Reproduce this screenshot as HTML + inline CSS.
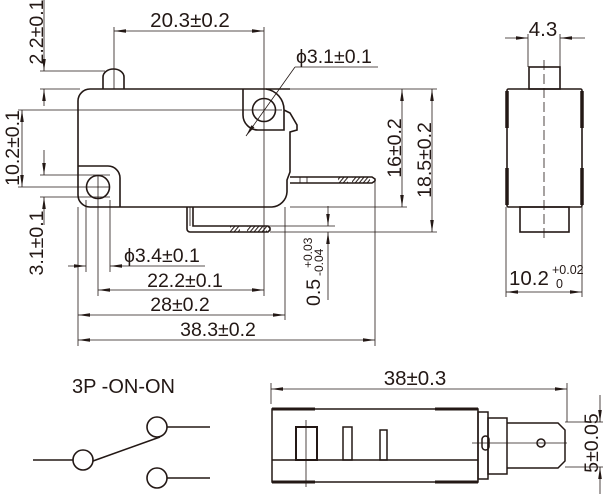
<!DOCTYPE html>
<html><head><meta charset="utf-8"><style>
html,body{margin:0;padding:0;background:#fff;width:603px;height:494px;overflow:hidden}
svg{display:block}
text{font-family:"Liberation Sans",Arial,sans-serif;fill:#231815}
</style></head><body>
<svg width="603" height="494" viewBox="0 0 603 494" xmlns="http://www.w3.org/2000/svg">
<defs>
<marker id="a" viewBox="0 0 12 6" refX="12" refY="3" markerWidth="12" markerHeight="6" orient="auto-start-reverse" markerUnits="userSpaceOnUse"><path d="M0,1.2L12,3L0,4.8z" fill="#231815"/></marker>
<pattern id="h" width="4" height="6" patternUnits="userSpaceOnUse" patternTransform="skewX(-40)"><rect width="1.3" height="6" fill="#231815"/></pattern>
</defs>
<g stroke="#231815" fill="none" stroke-width="0.8">
<line x1="114" y1="27" x2="114" y2="89"/>
<line x1="264" y1="27" x2="264" y2="296"/>
<line x1="40" y1="71" x2="105" y2="71"/>
<line x1="40" y1="89" x2="80" y2="89"/>
<line x1="18" y1="110" x2="282" y2="110"/>
<line x1="18" y1="187" x2="110" y2="187"/>
<line x1="40" y1="175" x2="110" y2="175"/>
<line x1="40" y1="197" x2="110" y2="197"/>
<line x1="290" y1="89" x2="437" y2="89"/>
<line x1="290" y1="207" x2="407" y2="207"/>
<line x1="270" y1="232" x2="437" y2="232"/>
<line x1="240" y1="226" x2="335" y2="226"/>
<line x1="78" y1="207" x2="78" y2="346"/>
<line x1="86" y1="200" x2="86" y2="272"/>
<line x1="98" y1="175" x2="98" y2="296"/>
<line x1="110" y1="200" x2="110" y2="272"/>
<line x1="285" y1="207" x2="285" y2="320"/>
<line x1="375" y1="182" x2="375" y2="346"/>
<line x1="114" y1="31" x2="264" y2="31" marker-start="url(#a)" marker-end="url(#a)"/>
<line x1="44" y1="0" x2="44" y2="71" marker-end="url(#a)"/>
<line x1="44" y1="89" x2="44" y2="106" marker-start="url(#a)"/>
<line x1="22" y1="110" x2="22" y2="187" marker-start="url(#a)" marker-end="url(#a)"/>
<line x1="44" y1="150" x2="44" y2="175" marker-end="url(#a)"/>
<line x1="44" y1="197" x2="44" y2="225" marker-start="url(#a)"/>
<line x1="402" y1="89" x2="402" y2="207" marker-start="url(#a)" marker-end="url(#a)"/>
<line x1="432" y1="89" x2="432" y2="232" marker-start="url(#a)" marker-end="url(#a)"/>
<line x1="328" y1="206" x2="328" y2="226" marker-end="url(#a)"/>
<line x1="328" y1="232" x2="328" y2="300" marker-start="url(#a)"/>
<line x1="68" y1="266" x2="86" y2="266" marker-end="url(#a)"/>
<line x1="110" y1="266" x2="205" y2="266" marker-start="url(#a)"/>
<line x1="98" y1="290" x2="264" y2="290" marker-start="url(#a)" marker-end="url(#a)"/>
<line x1="78" y1="315" x2="285" y2="315" marker-start="url(#a)" marker-end="url(#a)"/>
<line x1="78" y1="340" x2="375" y2="340" marker-start="url(#a)" marker-end="url(#a)"/>
<line x1="246" y1="136" x2="295" y2="67" marker-start="url(#a)"/>
<line x1="295" y1="67" x2="378" y2="67"/>
</g>
<g stroke="#231815" fill="none" stroke-width="1.6">
<path d="M103,89 V77 A10.5,8 0 0 1 124,77 V89"/>
<path d="M290,89 H90 A12,12 0 0 0 78,101 V195 A12,12 0 0 0 90,207 H272 A16,16 0 0 0 287,192 V180 L290,172 V132 L297,130 L297,125 L290,113 L284,110"/>
<path d="M243,89 V115 A15,15 0 0 0 258,130 H284 V110 A21,21 0 0 0 266,89"/>
<circle cx="264" cy="110" r="11.5"/>
<path d="M78,166 H108 A12,12 0 0 1 120,178 V207"/>
<circle cx="98" cy="187" r="11.5"/>
<path d="M290,177 H372 L375,179 V181 L372,183 H290"/>
<path d="M187,207 V229 A3,3 0 0 0 190,232 H268 L270,230 V228 L268,226 H193 V207"/>
</g>
<g stroke="#231815" stroke-width="0.8" fill="none">
<line x1="190" y1="207" x2="190" y2="226"/>
<line x1="300" y1="177" x2="300" y2="183"/><line x1="307" y1="177" x2="307" y2="183"/>
</g>
<rect x="338" y="177.5" width="10" height="5" fill="url(#h)"/>
<rect x="352" y="177.5" width="18" height="5" fill="url(#h)"/>
<rect x="230" y="226.5" width="10" height="5" fill="url(#h)"/>
<rect x="247" y="226.5" width="20" height="5" fill="url(#h)"/>
<text x="190" y="27" font-size="20.5" text-anchor="middle">20.3±0.2</text>
<text x="296" y="63" font-size="19.5">ϕ3.1±0.1</text>
<text transform="translate(43,32) rotate(-90)" font-size="19.5" text-anchor="middle">2.2±0.1</text>
<text transform="translate(19,148) rotate(-90)" font-size="19.5" text-anchor="middle">10.2±0.1</text>
<text transform="translate(43,243) rotate(-90)" font-size="19.5" text-anchor="middle">3.1±0.1</text>
<text transform="translate(401,148) rotate(-90)" font-size="19.5" text-anchor="middle">16±0.2</text>
<text transform="translate(431,160) rotate(-90)" font-size="19.5" text-anchor="middle">18.5±0.2</text>
<text transform="translate(320,306) rotate(-90)" font-size="19.5">0.5</text>
<text transform="translate(312,268) rotate(-90)" font-size="12">+0.03</text>
<text transform="translate(323,276) rotate(-90)" font-size="12">-0.04</text>
<text x="124" y="262" font-size="19.5">ϕ3.4±0.1</text>
<text x="185" y="287" font-size="19.5" text-anchor="middle">22.2±0.1</text>
<text x="180" y="311" font-size="19.5" text-anchor="middle">28±0.2</text>
<text x="218" y="336" font-size="19.5" text-anchor="middle">38.3±0.2</text>
<g stroke="#231815" fill="none" stroke-width="0.8">
<line x1="528" y1="34" x2="528" y2="67"/><line x1="560" y1="34" x2="560" y2="67"/>
<line x1="505" y1="38" x2="528" y2="38" marker-end="url(#a)"/>
<line x1="560" y1="38" x2="585" y2="38" marker-start="url(#a)"/>
<line x1="506" y1="207" x2="506" y2="297"/><line x1="582" y1="207" x2="582" y2="297"/>
<line x1="506" y1="292" x2="582" y2="292" marker-start="url(#a)" marker-end="url(#a)"/>
<line x1="544" y1="60" x2="544" y2="242" stroke-dasharray="10,4"/>
</g>
<g stroke="#231815" fill="none" stroke-width="1.6">
<rect x="529" y="67" width="31" height="22"/>
<rect x="507" y="89" width="75" height="118" rx="1.5"/>
<rect x="520" y="207" width="49" height="25"/>
</g>
<g stroke="#231815" stroke-width="3.5">
<line x1="507" y1="91" x2="507" y2="128"/><line x1="507" y1="168" x2="507" y2="205"/>
<line x1="582" y1="91" x2="582" y2="128"/><line x1="582" y1="168" x2="582" y2="205"/>
</g>
<text x="509" y="285" font-size="20.5">10.2</text>
<text x="552" y="274" font-size="12.5">+0.02</text>
<text x="556" y="288" font-size="12.5">0</text>
<text x="543" y="36" font-size="20.5" text-anchor="middle">4.3</text>
<g stroke="#231815" fill="none" stroke-width="0.8">
<line x1="271" y1="383" x2="271" y2="404"/><line x1="567" y1="383" x2="567" y2="422"/>
<line x1="271" y1="389" x2="567" y2="389" marker-start="url(#a)" marker-end="url(#a)"/>
<line x1="565" y1="422" x2="603" y2="422"/><line x1="565" y1="467" x2="603" y2="467"/>
<line x1="600" y1="395" x2="600" y2="422" marker-end="url(#a)"/>
<line x1="600" y1="467" x2="600" y2="494" marker-start="url(#a)"/>
<line x1="472" y1="443" x2="567" y2="443"/>
<line x1="306" y1="420" x2="306" y2="487"/>
</g>
<g stroke="#231815" fill="none" stroke-width="1.5">
<rect x="272" y="409" width="206" height="73"/>
<line x1="272" y1="460" x2="478" y2="460"/>
<rect x="296" y="427" width="21" height="33" stroke-width="2"/>
<rect x="343" y="427" width="9" height="33"/>
<rect x="380" y="430" width="7" height="30"/>
<rect x="478" y="412" width="10" height="67"/>
<rect x="488" y="418" width="19" height="56"/>
<path d="M507,423 H558 L565,430 V461 L558,468 H507"/>
<rect x="482" y="436" width="7" height="14" rx="3.5"/>
<circle cx="541" cy="443" r="4"/>
</g>
<g stroke="#231815" stroke-width="3">
<line x1="272" y1="409" x2="315" y2="409"/><line x1="435" y1="409" x2="478" y2="409"/>
<line x1="272" y1="482" x2="315" y2="482"/><line x1="435" y1="482" x2="478" y2="482"/>
</g>
<text x="415" y="385" font-size="20.5" text-anchor="middle">38±0.3</text>
<text transform="translate(598,443) rotate(-90)" font-size="19.5" text-anchor="middle">5±0.05</text>
<text x="72" y="393" font-size="20">3P -ON-ON</text>
<g stroke="#231815" fill="none" stroke-width="1.6">
<circle cx="83" cy="460" r="10"/>
<circle cx="157" cy="427" r="10"/>
<circle cx="157" cy="478" r="10"/>
<line x1="33" y1="460" x2="73" y2="460"/>
<line x1="167" y1="427" x2="210" y2="427"/>
<line x1="167" y1="478" x2="210" y2="478"/>
<line x1="93" y1="461" x2="160" y2="437"/>
</g>
</svg>
</body></html>
